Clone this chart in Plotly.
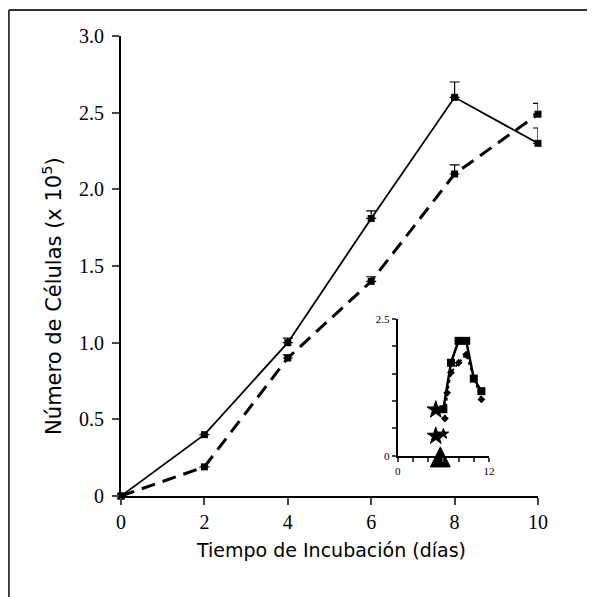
import plotly.graph_objects as go

# Main chart data
dias = [0, 2, 4, 6, 8, 10]
serie_solida = [0.0, 0.40, 1.00, 1.81, 2.60, 2.30]
error_solida = [0.0, 0.0, 0.03, 0.05, 0.10, 0.10]
serie_discontinua = [0.0, 0.19, 0.90, 1.40, 2.10, 2.49]
error_discontinua = [0.0, 0.0, 0.02, 0.03, 0.06, 0.07]

x_ticks = [0, 2, 4, 6, 8, 10]
y_ticks = [0, 0.5, 1.0, 1.5, 2.0, 2.5, 3.0]
y_ticklabels = ["0", "0.5", "1.0", "1.5", "2.0", "2.5", "3.0"]

# Inset data
inset_sq_x = [6, 7, 8, 9, 10, 11]
inset_sq_y = [0.85, 1.70, 2.10, 2.10, 1.41, 1.18]
inset_dot_x = [6.2, 6.5, 7, 8, 9, 11]
inset_dot_y = [0.68, 1.15, 1.52, 1.70, 1.85, 1.03]
inset_star_x = [5, 5, 6]
inset_star_y = [0.84, 0.36, 0.40]
inset_tri_x = [5.6]
inset_tri_y = [0.16]
inset_x_ticks = [0, 2, 4, 6, 8, 10, 12]
inset_x_labels = ["0", "", "", "", "", "", "12"]
inset_y_ticks = [0, 0.5, 1.0, 1.5, 2.0, 2.5]
inset_y_labels = ["0", "", "", "", "", "2.5"]

fig = go.Figure()

fig.add_trace(go.Scatter(
    x=dias, y=serie_solida, mode="lines+markers",
    line=dict(color="black", width=1.8),
    marker=dict(symbol="square", size=7, color="black"),
    error_y=dict(type="data", array=error_solida, arrayminus=[0]*6, symmetric=False,
                 color="black", thickness=1.2, width=5),
    cliponaxis=False, showlegend=False))

fig.add_trace(go.Scatter(
    x=dias, y=serie_discontinua, mode="lines+markers",
    line=dict(color="black", width=3, dash="14px,8px"),
    marker=dict(symbol="square", size=7, color="black"),
    error_y=dict(type="data", array=error_discontinua, arrayminus=[0]*6, symmetric=False,
                 color="black", thickness=1.2, width=5),
    cliponaxis=False, showlegend=False))

# Inset traces
fig.add_trace(go.Scatter(
    x=inset_sq_x, y=inset_sq_y, mode="lines+markers", xaxis="x2", yaxis="y2",
    line=dict(color="black", width=2.5),
    marker=dict(symbol="square", size=8, color="black"),
    cliponaxis=False, showlegend=False))
fig.add_trace(go.Scatter(
    x=inset_dot_x, y=inset_dot_y, mode="lines+markers", xaxis="x2", yaxis="y2",
    line=dict(color="black", width=2, dash="dot"),
    marker=dict(symbol="diamond", size=6, color="black"),
    cliponaxis=False, showlegend=False))
fig.add_trace(go.Scatter(
    x=inset_star_x, y=inset_star_y, mode="markers", xaxis="x2", yaxis="y2",
    marker=dict(symbol="star", size=[13, 13, 8], color="black", opacity=1,
                line=dict(color="black", width=1)),
    cliponaxis=False, showlegend=False))
fig.add_trace(go.Scatter(
    x=inset_tri_x, y=inset_tri_y, mode="markers", xaxis="x2", yaxis="y2",
    marker=dict(symbol="arrow-up", size=20, color="black", opacity=1,
                line=dict(color="black", width=1)),
    cliponaxis=False, showlegend=False))

serif = "Liberation Serif"
sans = "DejaVu Sans"

fig.update_layout(
    width=595, height=597,
    margin=dict(l=113, r=65, t=28, b=109),
    paper_bgcolor="white", plot_bgcolor="white",
    xaxis=dict(range=[0, 10], tickvals=x_ticks, ticks="outside", ticklen=7, tickwidth=2,
               showline=True, linecolor="black", linewidth=2, showgrid=False, zeroline=False,
               tickfont=dict(family=serif, size=20, color="black")),
    yaxis=dict(range=[0, 3], tickvals=y_ticks, ticktext=y_ticklabels, ticks="outside",
               ticklen=7, tickwidth=2, ticklabelstandoff=4,
               showline=True, linecolor="black", linewidth=2, showgrid=False, zeroline=False,
               tickfont=dict(family=serif, size=20, color="black")),
    xaxis2=dict(domain=[0.6636, 0.8825], anchor="y2", range=[0, 12], tickvals=inset_x_ticks,
                ticktext=inset_x_labels, ticks="outside", ticklen=4, tickwidth=1.5,
                showline=True, linecolor="black", linewidth=2, showgrid=False, zeroline=False,
                tickfont=dict(family=serif, size=11, color="black")),
    yaxis2=dict(domain=[0.0876, 0.3848], anchor="x2", range=[0, 2.5], tickvals=inset_y_ticks,
                ticktext=inset_y_labels, ticks="outside", ticklen=4, tickwidth=1.5,
                showline=True, linecolor="black", linewidth=2, showgrid=False, zeroline=False,
                tickfont=dict(family=serif, size=11, color="black")),
    annotations=[
        dict(text="Tiempo de Incubación (días)", xref="paper", yref="paper",
             x=0.5036, y=-0.117, showarrow=False, xanchor="center", yanchor="middle",
             font=dict(family=sans, size=19, color="black")),
        dict(text="Número de Células (x 10<sup>5</sup>)", xref="paper", yref="paper",
             x=-0.1655, y=0.435, showarrow=False, textangle=-90, xanchor="center",
             yanchor="middle", font=dict(family=sans, size=21, color="black")),
    ],
    shapes=[
        dict(type="line", xref="paper", yref="paper", x0=-0.269, x1=-0.269, y0=-0.25, y1=1.0565,
             line=dict(color="#333333", width=2)),
        dict(type="line", xref="paper", yref="paper", x0=-0.269, x1=1.2, y0=1.0565, y1=1.0565,
             line=dict(color="#333333", width=2)),
    ],
)

fig.write_html("out.html")
